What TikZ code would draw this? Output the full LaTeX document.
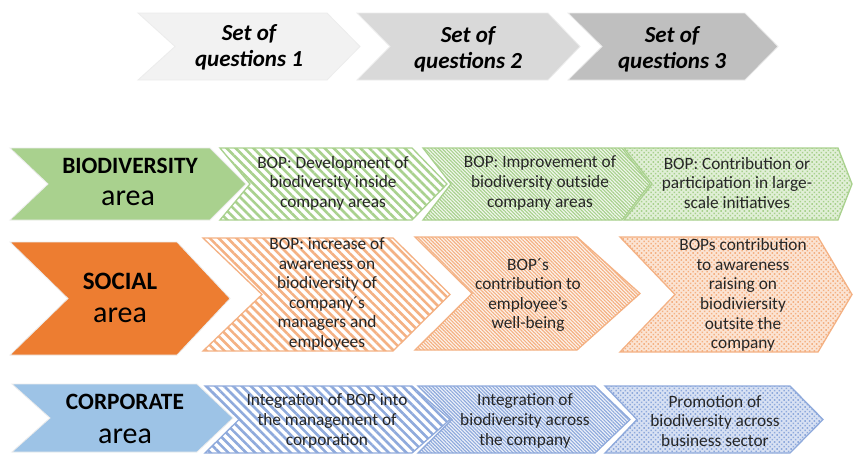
\documentclass[tikz,border=0pt]{standalone}
\usepackage{fontspec}
\setmainfont{Carlito}
\usetikzlibrary{patterns.meta}
\definecolor{gfill}{HTML}{A9D18E}
\definecolor{ofill}{HTML}{ED7D31}
\definecolor{bfill}{HTML}{9DC3E6}
\definecolor{gline}{HTML}{A9D18E}
\definecolor{oline}{HTML}{F4B183}
\definecolor{bline}{HTML}{8FAADC}
\definecolor{q1}{HTML}{F2F2F2}
\definecolor{q2}{HTML}{D9D9D9}
\definecolor{q3}{HTML}{BFBFBF}
\definecolor{txtc}{HTML}{262626}
\newcommand{\mychev}[7]{%
  \path[#1] (#2,#6) -- (#4,#6) -- (#5,{(#6+#7)/2}) -- (#4,#7) -- (#2,#7) -- (#3,{(#6+#7)/2}) -- cycle;}
\tikzset{
  wide/.style={draw=#1, line width=1.3pt, pattern={Lines[angle=-45,distance=6.3pt,line width=2.6pt]}, pattern color=#1},
  fine/.style={draw=#1, line width=1.3pt, preaction={fill=#1!15}, pattern={Lines[angle=-45,distance=2.5pt,line width=1.15pt]}, pattern color=#1},
  dotty/.style={draw=#1, line width=1.3pt, preaction={fill=#1!35}, pattern={Dots[radius=1.1pt,distance=3.3pt,angle=45]}, pattern color=#1},
  solidchev/.style={fill=#1, draw=white!85!gray, line width=0.8pt},
  qtxt/.style={align=center, font=\fontsize{23}{26}\selectfont\bfseries\itshape, text=black, inner sep=0pt},
  btxt/.style={align=center, font=\fontsize{17.3}{19.6}\selectfont, text=txtc, inner sep=0pt},
  areaT/.style={font=\fontsize{23.4}{26}\selectfont\bfseries, text=black, inner sep=0pt},
  areaA/.style={font=\fontsize{30}{34}\selectfont, text=black, inner sep=0pt},
}
\begin{document}
\begin{tikzpicture}[x=1pt,y=-1pt]
\useasboundingbox[fill=white] (0,0) rectangle (854,456);
% top chevrons
\mychev{solidchev=q1}{138}{175}{327}{360}{13}{80}
\mychev{solidchev=q2}{357}{390}{548}{580}{13}{80}
\mychev{solidchev=q3}{568}{602}{745}{778}{13}{80}
\node[qtxt] (q1t) at (249,47) {Set of\\questions 1};
\node[qtxt] (q2t) at (468,49) {Set of\\questions 2};
\node[qtxt] (q3t) at (672,49) {Set of\\questions 3};
% row 1
\mychev{solidchev=gfill}{10}{48}{210}{246}{148}{220}
\mychev{wide=gline}{220}{250}{412}{447}{148}{220}
\mychev{fine=gline}{423}{451}{622}{650}{148}{220}
\mychev{dotty=gline}{624}{652}{838}{852}{148}{220}
\node[areaT] (bioT) at (130,166) {BIODIVERSITY};
\node[areaA] (bioA) at (128,198) {area};
\node[btxt] (b1) at (333,183) {BOP: Development of\\biodiversity inside\\company areas};
\node[btxt] (b2) at (540,183) {BOP: Improvement of\\biodiversity outside\\company areas};
\node[btxt] (b3) at (737,183) {BOP: Contribution or\\participation in large-\\scale initiatives};
% row 2
\mychev{solidchev=ofill}{10}{68}{177}{230}{242}{355}
\mychev{wide=oline}{203}{262}{393}{450}{238}{351}
\mychev{fine=oline}{415}{472}{577}{640}{237}{350}
\mychev{dotty=oline}{620}{675}{818}{852}{237}{352}
\node[areaT, font=\fontsize{25}{28}\selectfont\bfseries] (socT) at (120,281) {SOCIAL};
\node[areaA] (socA) at (120,315) {area};
\node[btxt] (s1) at (327,294) {BOP: increase of\\awareness on\\biodiversity of\\company´s\\managers and\\employees};
\node[btxt] (s2) at (528,295) {BOP´s\\contribution to\\employee's\\well-being};
\node[btxt] (s3) at (743,295) {BOPs contribution\\to awareness\\raising on\\biodiviersity\\outsite the\\company};
% row 3
\mychev{solidchev=bfill}{12}{50}{197}{233}{384}{452}
\mychev{wide=bline}{205}{239}{412}{450}{386}{453}
\mychev{fine=bline}{418}{452}{595}{630}{386}{453}
\mychev{dotty=bline}{605}{637}{790}{823}{386}{453}
\node[areaT] (corT) at (125,402) {CORPORATE};
\node[areaA] (corA) at (125,436) {area};
\node[btxt] (c1) at (327,421) {Integration of BOP into\\the management of\\corporation};
\node[btxt] (c2) at (525,421) {Integration of\\biodiversity across\\the company};
\node[btxt] (c3) at (715,421) {Promotion of\\biodiversity across\\business sector};
\end{tikzpicture}
\end{document}
